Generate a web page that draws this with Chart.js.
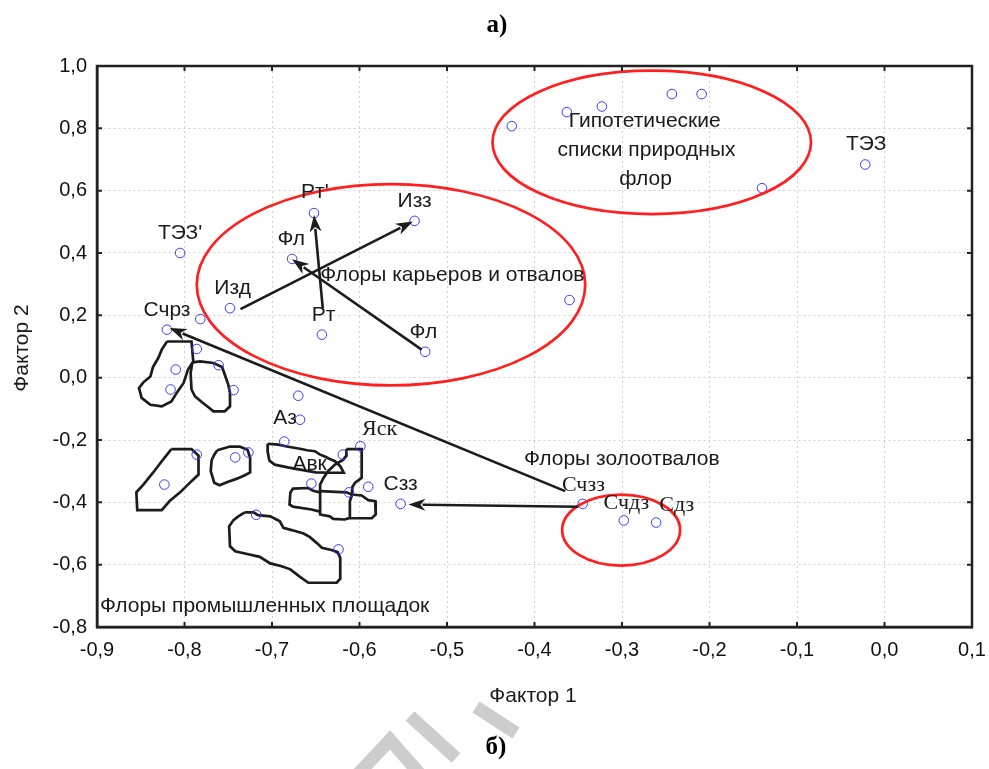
<!DOCTYPE html>
<html>
<head>
<meta charset="utf-8">
<script src="https://cdn.jsdelivr.net/npm/chart.js"></script>
<style>
  html, body { margin: 0; padding: 0; background: #fff; }
  #wrap { width: 989px; height: 769px; }
</style>
</head>
<body>
<div id="wrap"><canvas id="c" width="989" height="769"></canvas></div>
<script>
// scatter points (Фактор 1, Фактор 2)
const pointX = [-0.805, -0.652, -0.537, -0.677, -0.748, -0.643, -0.525, -0.820, -0.782, -0.786,
                -0.810, -0.761, -0.426, -0.363, -0.323, -0.243, -0.209, -0.140, -0.022, -0.360,
                -0.816, -0.744, -0.670, -0.668, -0.686, -0.599, -0.619, -0.786, -0.742, -0.727,
                -0.823, -0.655, -0.612, -0.590, -0.553, -0.718, -0.624, -0.345, -0.298, -0.261];
const pointY = [0.400, 0.528, 0.503, 0.381, 0.223, 0.138, 0.083, 0.154, 0.188, 0.092,
                0.026, 0.040, 0.807, 0.852, 0.870, 0.910, 0.910, 0.608, 0.684, 0.249,
                -0.038, -0.040, -0.058, -0.135, -0.205, -0.220, -0.247, -0.247, -0.256, -0.240,
                -0.343, -0.340, -0.368, -0.350, -0.405, -0.440, -0.551, -0.405, -0.458, -0.465];

const xTicks = [-0.9, -0.8, -0.7, -0.6, -0.5, -0.4, -0.3, -0.2, -0.1, 0.0, 0.1];
const yTicks = [-0.8, -0.6, -0.4, -0.2, 0.0, 0.2, 0.4, 0.6, 0.8, 1.0];

// outlines of the industrial-site groups
const blobA = [[-0.820,0.116],[-0.792,0.116],[-0.790,0.052],[-0.796,0.026],[-0.801,-0.017],[-0.809,-0.049],[-0.815,-0.076],[-0.826,-0.092],[-0.839,-0.087],[-0.849,-0.065],[-0.852,-0.033],[-0.847,-0.015],[-0.839,0.004],[-0.836,0.034],[-0.830,0.063],[-0.826,0.090]];
const blobB = [[-0.791,0.049],[-0.782,0.052],[-0.767,0.047],[-0.757,0.034],[-0.754,0.010],[-0.750,-0.022],[-0.748,-0.049],[-0.748,-0.092],[-0.754,-0.108],[-0.767,-0.108],[-0.773,-0.094],[-0.780,-0.079],[-0.788,-0.060],[-0.792,-0.038],[-0.793,0.015]];
const blobC = [[-0.815,-0.229],[-0.792,-0.229],[-0.784,-0.250],[-0.784,-0.311],[-0.792,-0.332],[-0.805,-0.368],[-0.817,-0.396],[-0.826,-0.425],[-0.854,-0.425],[-0.855,-0.368],[-0.847,-0.343],[-0.836,-0.305],[-0.826,-0.268]];
const blobD = [[-0.7625,-0.233],[-0.748,-0.221],[-0.737,-0.221],[-0.728,-0.231],[-0.725,-0.257],[-0.725,-0.304],[-0.731,-0.313],[-0.740,-0.324],[-0.750,-0.334],[-0.760,-0.345],[-0.766,-0.337],[-0.770,-0.300],[-0.769,-0.265],[-0.766,-0.247]];
const blobE = [[-0.705,-0.212],[-0.693,-0.215],[-0.683,-0.221],[-0.668,-0.228],[-0.660,-0.233],[-0.651,-0.236],[-0.645,-0.247],[-0.639,-0.254],[-0.634,-0.261],[-0.628,-0.268],[-0.622,-0.284],[-0.618,-0.305],[-0.634,-0.305],[-0.650,-0.304],[-0.668,-0.295],[-0.682,-0.288],[-0.697,-0.279],[-0.703,-0.266],[-0.705,-0.237]];
const blobF = [[-0.615,-0.229],[-0.5975,-0.229],[-0.5975,-0.321],[-0.605,-0.337],[-0.608,-0.350],[-0.609,-0.380],[-0.611,-0.396],[-0.611,-0.450],[-0.617,-0.455],[-0.630,-0.453],[-0.634,-0.445],[-0.645,-0.439],[-0.645,-0.343],[-0.641,-0.321],[-0.636,-0.300],[-0.628,-0.279],[-0.6185,-0.263],[-0.615,-0.250]];
const blobG = [[-0.645,-0.364],[-0.615,-0.368],[-0.609,-0.375],[-0.5975,-0.378],[-0.590,-0.393],[-0.582,-0.396],[-0.5815,-0.439],[-0.586,-0.451],[-0.611,-0.451]];
const blobH = [[-0.645,-0.368],[-0.653,-0.363],[-0.6585,-0.354],[-0.676,-0.356],[-0.679,-0.368],[-0.680,-0.407],[-0.676,-0.414],[-0.655,-0.423],[-0.645,-0.430]];
const blobI = [[-0.731,-0.432],[-0.721,-0.432],[-0.716,-0.441],[-0.702,-0.445],[-0.691,-0.461],[-0.687,-0.482],[-0.6775,-0.489],[-0.664,-0.500],[-0.657,-0.511],[-0.649,-0.530],[-0.643,-0.546],[-0.632,-0.553],[-0.625,-0.560],[-0.622,-0.578],[-0.622,-0.645],[-0.626,-0.658],[-0.645,-0.658],[-0.6585,-0.658],[-0.668,-0.639],[-0.679,-0.615],[-0.689,-0.605],[-0.702,-0.596],[-0.714,-0.575],[-0.731,-0.564],[-0.742,-0.557],[-0.748,-0.541],[-0.749,-0.477],[-0.744,-0.457],[-0.7385,-0.445]];
const closedBlobs = [blobA, blobB, blobC, blobD, blobE, blobF, blobI];
const openBlobs = [blobG, blobH];

// arrows: from -> to (head at "to")
const arrowFrom = [[-0.736, 0.220], [-0.642, 0.223], [-0.529, 0.090], [-0.365, -0.364], [-0.350, -0.414]];
const arrowTo   = [[-0.539, 0.501], [-0.652, 0.522], [-0.677, 0.380], [-0.817, 0.159], [-0.544, -0.407]];

// red ellipses: center x, center y, radius x, radius y
const ellipseCX = [-0.266, -0.564, -0.301];
const ellipseCY = [0.755, 0.298, -0.489];
const ellipseRX = [0.182, 0.222, 0.0674];
const ellipseRY = [0.230, 0.3227, 0.1138];

// text labels in data coordinates
const labelText = ["ТЭЗ'", "Рт'", "Изз", "Фл", "Изд", "Флоры карьеров и отвалов", "Счрз", "Рт", "Фл",
                   "Гипотетические", "списки природных", "флор", "ТЭЗ", "Аз", "Яск", "Авк", "Сзз",
                   "Флоры промышленных площадок", "Флоры золоотвалов", "Счзз", "Счдз", "Сдз"];
const labelX = [-0.805, -0.651, -0.537, -0.678, -0.745, -0.645, -0.820, -0.641, -0.527,
                -0.274, -0.272, -0.273, -0.021, -0.685, -0.577, -0.657, -0.553,
                -0.8966, -0.412, -0.344, -0.295, -0.2375];
const labelY = [0.465, 0.594, 0.565, 0.4445, 0.2875, 0.330, 0.218, 0.202, 0.146,
                0.8215, 0.731, 0.638, 0.750, -0.129, -0.167, -0.279, -0.341,
                -0.733, -0.263, -0.345, -0.404, -0.409];
const labelSerif = [0, 0, 0, 0, 0, 0, 0, 0, 0, 0, 0, 0, 0, 0, 1, 0, 0, 0, 0, 1, 1, 1];
const labelLeft  = [0, 0, 0, 0, 0, 1, 0, 0, 0, 0, 0, 0, 0, 0, 0, 0, 0, 1, 1, 0, 0, 0];

const SANS = "'Liberation Sans', Arial, sans-serif";
const SERIF = "'Liberation Serif', 'Times New Roman', serif";
const fmt = v => v.toFixed(1).replace('.', ',').replace('-0,0', '0,0');

const toXY = pts => pts.map(p => ({ x: p[0], y: p[1] }));
const datasets = [{
  label: 'points',
  data: pointX.map((x, i) => ({ x: x, y: pointY[i] })),
  pointRadius: 4.8,
  pointBorderWidth: 1,
  pointBorderColor: '#3a3aff',
  pointBackgroundColor: 'rgba(0,0,0,0)',
  showLine: false
}];
closedBlobs.forEach(b => datasets.push({
  data: toXY(b.concat([b[0]])), showLine: true, pointRadius: 0,
  borderColor: '#1c1c1c', borderWidth: 2.7, tension: 0
}));
openBlobs.forEach(b => datasets.push({
  data: toXY(b), showLine: true, pointRadius: 0,
  borderColor: '#1c1c1c', borderWidth: 2.7, tension: 0
}));

const overlay = {
  id: 'overlay',
  afterDatasetsDraw(chart) {
    const ctx = chart.ctx, sx = chart.scales.x, sy = chart.scales.y;
    const px = v => sx.getPixelForValue(v), py = v => sy.getPixelForValue(v);
    ctx.save();
    // ellipses
    ctx.strokeStyle = '#ff1f1f';
    ctx.lineWidth = 2.7;
    for (let i = 0; i < ellipseCX.length; i++) {
      const cx = px(ellipseCX[i]), cy = py(ellipseCY[i]);
      const rx = Math.abs(px(ellipseCX[i] + ellipseRX[i]) - cx);
      const ry = Math.abs(py(ellipseCY[i] + ellipseRY[i]) - cy);
      ctx.beginPath();
      ctx.ellipse(cx, cy, rx, ry, 0, 0, Math.PI * 2);
      ctx.stroke();
    }
    // arrows
    ctx.strokeStyle = '#1c1c1c';
    ctx.fillStyle = '#1c1c1c';
    ctx.lineWidth = 2.6;
    for (let i = 0; i < arrowFrom.length; i++) {
      const x1 = px(arrowFrom[i][0]), y1 = py(arrowFrom[i][1]);
      const x2 = px(arrowTo[i][0]), y2 = py(arrowTo[i][1]);
      const a = Math.atan2(y2 - y1, x2 - x1);
      const len = 17, hw = 6;
      ctx.beginPath();
      ctx.moveTo(x1, y1);
      ctx.lineTo(x2 - Math.cos(a) * (len - 3), y2 - Math.sin(a) * (len - 3));
      ctx.stroke();
      ctx.beginPath();
      ctx.moveTo(x2, y2);
      ctx.lineTo(x2 - Math.cos(a) * len - Math.sin(a) * hw, y2 - Math.sin(a) * len + Math.cos(a) * hw);
      ctx.lineTo(x2 - Math.cos(a) * (len - 5), y2 - Math.sin(a) * (len - 5));
      ctx.lineTo(x2 - Math.cos(a) * len + Math.sin(a) * hw, y2 - Math.sin(a) * len - Math.cos(a) * hw);
      ctx.closePath();
      ctx.fill();
    }
    // labels
    ctx.fillStyle = '#1a1a1a';
    ctx.textBaseline = 'middle';
    for (let i = 0; i < labelText.length; i++) {
      ctx.font = labelSerif[i] ? '22px ' + SERIF : '21px ' + SANS;
      ctx.textAlign = labelLeft[i] ? 'left' : 'center';
      ctx.fillText(labelText[i], px(labelX[i]), py(labelY[i]));
    }
    ctx.restore();
  },
  afterDraw(chart) {
    const ctx = chart.ctx, a = chart.chartArea;
    const sx = chart.scales.x, sy = chart.scales.y;
    ctx.save();
    // frame
    ctx.strokeStyle = '#222';
    ctx.lineWidth = 2.5;
    ctx.strokeRect(a.left, a.top, a.right - a.left, a.bottom - a.top);
    // inward ticks on all sides
    ctx.lineWidth = 2;
    ctx.beginPath();
    xTicks.forEach(t => {
      const x = sx.getPixelForValue(t);
      ctx.moveTo(x, a.bottom); ctx.lineTo(x, a.bottom - 5);
      ctx.moveTo(x, a.top); ctx.lineTo(x, a.top + 5);
    });
    yTicks.forEach(t => {
      const y = sy.getPixelForValue(t);
      ctx.moveTo(a.left, y); ctx.lineTo(a.left + 5, y);
      ctx.moveTo(a.right, y); ctx.lineTo(a.right - 5, y);
    });
    ctx.stroke();
    // axis titles
    ctx.fillStyle = '#1a1a1a';
    ctx.font = '21px ' + SANS;
    ctx.textAlign = 'center';
    ctx.textBaseline = 'middle';
    ctx.fillText('Фактор 1', 533, 696);
    ctx.save();
    ctx.translate(22, 348);
    ctx.rotate(-Math.PI / 2);
    ctx.fillText('Фактор 2', 0, 0);
    ctx.restore();
    // panel letters
    ctx.fillStyle = '#000';
    ctx.font = 'bold 25px ' + SERIF;
    ctx.fillText('а)', 497, 26);
    ctx.fillText('б)', 496, 748);
    // faint watermark strokes
    ctx.strokeStyle = '#cdcdcd';
    ctx.lineWidth = 13;
    ctx.lineCap = 'butt';
    ctx.lineJoin = 'miter';
    ctx.beginPath();
    ctx.moveTo(358, 774); ctx.lineTo(390, 740); ctx.lineTo(420, 774);
    ctx.moveTo(410, 716); ctx.lineTo(456, 758);
    ctx.moveTo(476, 707); ctx.lineTo(516, 733);
    ctx.stroke();
    ctx.restore();
  }
};

new Chart(document.getElementById('c'), {
  type: 'scatter',
  data: { datasets: datasets },
  plugins: [overlay],
  options: {
    responsive: false,
    animation: false,
    events: [],
    layout: { padding: { top: 66, right: 17, left: 0, bottom: 0 } },
    plugins: { legend: { display: false }, tooltip: { enabled: false } },
    scales: {
      x: {
        type: 'linear', min: -0.9, max: 0.1,
        afterFit: s => { s.height = 142; s.paddingLeft = 0; s.paddingRight = 0; },
        afterBuildTicks: s => { s.ticks = xTicks.map(v => ({ value: v })); },
        ticks: { callback: v => fmt(v), color: '#111', padding: 11, font: { family: SANS, size: 20 }, maxRotation: 0, autoSkip: false },
        grid: { color: '#d0d0d0', lineWidth: 1, drawTicks: false },
        border: { display: true, color: '#222', width: 2.5, dash: [2, 3] }
      },
      y: {
        type: 'linear', min: -0.8, max: 1.0,
        afterFit: s => { s.width = 97; s.paddingTop = 0; s.paddingBottom = 0; },
        afterBuildTicks: s => { s.ticks = yTicks.map(v => ({ value: v })); },
        ticks: { callback: v => fmt(v), color: '#111', padding: 10, font: { family: SANS, size: 20 }, autoSkip: false },
        grid: { color: '#d0d0d0', lineWidth: 1, drawTicks: false },
        border: { display: true, color: '#222', width: 2.5, dash: [2, 3] }
      }
    }
  }
});
</script>
</body>
</html>
